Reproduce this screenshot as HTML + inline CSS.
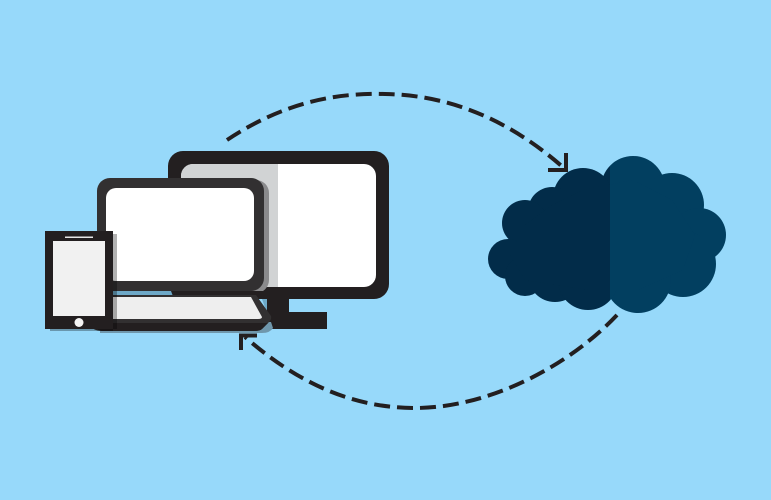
<!DOCTYPE html>
<html><head><meta charset="utf-8"><style>html,body{margin:0;padding:0;background:#97d9fa}svg{display:block}</style></head>
<body>
<svg xmlns="http://www.w3.org/2000/svg" width="771" height="500" viewBox="0 0 771 500">
<defs>
<clipPath id="l"><rect x="480" y="140" width="130" height="190"/></clipPath>
<clipPath id="r"><rect x="610" y="140" width="130" height="190"/></clipPath>
<g id="cloud">
<circle cx="633" cy="188" r="32"/><circle cx="672" cy="205" r="32"/><circle cx="699" cy="235" r="27"/>
<circle cx="683" cy="264" r="33"/><circle cx="638" cy="280" r="33"/><circle cx="583" cy="198" r="30"/>
<circle cx="552" cy="211" r="24"/><circle cx="525" cy="223" r="23"/><circle cx="508" cy="259" r="20"/>
<circle cx="525" cy="276" r="20"/><circle cx="555" cy="275" r="27"/><circle cx="588" cy="280" r="30"/>
<polygon points="525,225 552,205 583,190 633,180 672,200 695,235 683,270 638,290 588,290 525,280 510,255"/>
</g>
</defs>
<rect width="771" height="500" fill="#97d9fa"/>
<use href="#cloud" fill="#022c49" clip-path="url(#l)"/>
<use href="#cloud" fill="#023f60" clip-path="url(#r)"/>
<g fill="none" stroke="#231f20" stroke-width="4">
<path d="M227 140C290 98 345 93 385 94C450 95 510 120 565 169" stroke-dasharray="16 7"/>
<path d="M617 315C570 365 490 408 415 408C355 408 300 385 245 337" stroke-dasharray="16 7"/>
<path d="M566 153V170H548"/>
<path d="M241 350V335.500H257"/>
</g>
<!-- monitor -->
<rect x="240" y="312" width="87" height="17" fill="#231f20"/>
<rect x="267" y="295" width="22" height="20" fill="#231f20"/>
<rect x="168" y="151" width="221" height="148" rx="15" fill="#231f20"/>
<rect x="181" y="164" width="195" height="123" rx="12" fill="#fff"/>
<path d="M278 164H193a12 12 0 0 0-12 12V287H278Z" fill="#d1d3d4"/>
<!-- laptop -->
<path d="M100 333H262Q270 333 273 328L271 322H100Z" fill="#6f97ac"/>
<rect x="102" y="180" width="167" height="113" rx="13" fill="#8a8a8c"/>
<rect x="97" y="178" width="167" height="113" rx="13" fill="#323031"/>
<rect x="106" y="188" width="148" height="93" rx="10" fill="#fff"/>
<path d="M113 291H171L174 295H113Z" fill="#6ea9c8"/>
<path d="M171 291H268V299H174Z" fill="#231f20"/>
<path d="M262 299H267V313L268 316Z" fill="#6ea9c8"/>
<path d="M100 295H256L271 316Q272 320 268 323L262 329Q260 331 254 331H104Q94 331 92 327L100 320Z" fill="#323031"/>
<path d="M95 323H268L262 329Q260 331 254 331H104Q97 331 95 326Z" fill="#231f20"/>
<path d="M110 297H251L262 317Q262 319 258 319H110Z" fill="#eeeeee"/>
<!-- phone -->
<path d="M50 329H117V234H113V331H50Z" fill="#000" fill-opacity=".3"/>
<rect x="45" y="231" width="68" height="98" fill="#231f20"/>
<rect x="53" y="241" width="52" height="75" fill="#f1f1f1"/>
<rect x="65" y="236.500" width="28" height="1.500" fill="#e6e6e6"/>
<circle cx="79" cy="322.500" r="4.500" fill="#f4f4f4"/>
</svg>
</body></html>
